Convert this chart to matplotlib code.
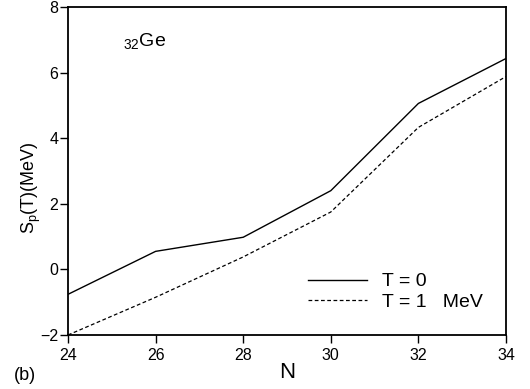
import matplotlib
matplotlib.use("Agg")
import matplotlib.pyplot as plt

N = [24, 26, 28, 30, 32, 34]
sp_T0 = [-0.76, 0.55, 0.98, 2.40, 5.06, 6.43]
sp_T1 = [-2.00, -0.85, 0.38, 1.75, 4.33, 5.88]
xticks = [24, 26, 28, 30, 32, 34]
yticks = [-2, 0, 2, 4, 6, 8]

plt.rcParams['font.family'] = ['Liberation Sans', 'DejaVu Sans']

fig = plt.figure(figsize=(5.30, 3.89), dpi=100)
ax = fig.add_axes([68/530, 1-335/389, (506-68)/530, (335-7)/389])

ax.plot(N, sp_T0, color='black', lw=1.0, label='T = 0')
ax.plot(N, sp_T1, color='black', lw=0.9, ls=(0, (3, 2)), label='T = 1   MeV')

ax.set_xlim(24, 34)
ax.set_ylim(-2, 8)
ax.set_xticks(xticks)
ax.set_yticks(yticks)
ax.set_xticklabels([str(t) for t in xticks])
ax.set_yticklabels(['\u22122' if t == -2 else str(t) for t in yticks])
ax.tick_params(direction='out', length=6, width=1, labelsize=11.5)
ax.tick_params(axis='x', pad=3)
ax.tick_params(axis='y', pad=1)
for s in ax.spines.values():
    s.set_linewidth(1.3)

ax.set_xlabel('N', fontsize=16, labelpad=0)
ax.set_ylabel(r'S$_\mathregular{p}$(T)(MeV)', fontsize=13)
ax.yaxis.set_label_coords(-0.058, 0.45)

ax.text(0.125, 0.895, r'$_\mathregular{32}$Ge', transform=ax.transAxes, fontsize=14,
        ha='left', va='center')

fig.text(14/530, 1-376/389, '(b)', fontsize=13, ha='left', va='center')

leg = ax.legend(loc='lower right', bbox_to_anchor=(0.988, 0.02), frameon=False,
                fontsize=14, handlelength=3.0, handletextpad=0.8, labelspacing=0.15)

fig.savefig('out.png', dpi=100)
